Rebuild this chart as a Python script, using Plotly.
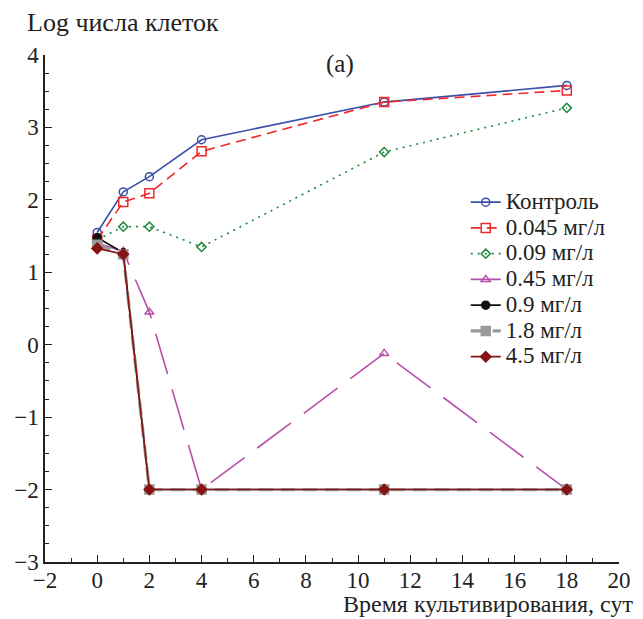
import plotly.graph_objects as go

days = [0, 1, 2, 4, 11, 18]
names = ["Контроль", "0.045 мг/л", "0.09 мг/л", "0.45 мг/л", "0.9 мг/л", "1.8 мг/л", "4.5 мг/л"]
control = [1.55, 2.11, 2.32, 2.83, 3.35, 3.58]
c0045 = [1.45, 1.97, 2.09, 2.67, 3.35, 3.51]
c009 = [1.45, 1.63, 1.63, 1.35, 2.66, 3.27]
c045 = [1.40, 1.29, 0.45, -2.0, -0.12, -2.0]
c09 = [1.48, 1.27, -2.0, -2.0, -2.0, -2.0]
c18 = [1.38, 1.25, -2.0, -2.0, -2.0, -2.0]
c45 = [1.33, 1.25, -2.0, -2.0, -2.0, -2.0]
series = [control, c0045, c009, c045, c09, c18, c45]

colors = ["#3A4FA8", "#F02828", "#1E8A3C", "#B64FAA", "#111111", "#9A9A9A", "#861414"]
dashes = ["solid", "10px,6px", "2px,5px", "42px,16px", "solid", "14px,8px", "solid"]
widths = [1.6, 1.6, 1.6, 1.6, 1.6, 3.2, 1.6]
symbols = ["circle-open", "square-open", "diamond-open", "triangle-up-open", "circle", "square", "diamond"]
sizes = [8, 9, 7, 8, 8, 9, 8]

font = "Liberation Serif, Times New Roman, serif"
LEG_SIZE = 23

fig = go.Figure()
for i in range(7):
    fig.add_trace(go.Scatter(
        x=days, y=series[i],
        name='<span style="font-size:%dpx">%s</span>' % (LEG_SIZE, names[i]),
        mode="lines+markers",
        line=dict(color=colors[i], width=widths[i], dash=dashes[i]),
        marker=dict(symbol=symbols[i], size=sizes[i], color=colors[i],
                    line=dict(color=colors[i], width=1.5)),
    ))

axis_common = dict(
    showline=True, linecolor="#222", linewidth=1.5, mirror=False,
    ticks="inside", ticklen=7, tickwidth=1.3, tickcolor="#222",
    showgrid=False, zeroline=False,
    tickfont=dict(family=font, size=23, color="#222"),
)
fig.update_xaxes(range=[-2, 20], dtick=2, tick0=0, ticklabelstandoff=-3,
                 minor=dict(dtick=1, ticks="inside", ticklen=4, tickcolor="#222", tickwidth=1.2),
                 **axis_common)
fig.update_yaxes(range=[-3, 4], dtick=1, tick0=0,
                 minor=dict(dtick=0.25, ticks="inside", ticklen=4, tickcolor="#222", tickwidth=1.2),
                 **axis_common)

fig.update_layout(
    width=643, height=619,
    margin=dict(l=45, r=16, t=55, b=57),
    paper_bgcolor="white", plot_bgcolor="white",
    font=dict(family=font, size=20, color="#222"),
    legend=dict(x=0.733, y=0.745, xanchor="left", yanchor="top",
                bgcolor="rgba(0,0,0,0)", font=dict(family=font, size=17.5, color="#222"),
                tracegroupgap=0, itemsizing="trace"),
    annotations=[
        dict(text="Log числа клеток", x=0.0, y=1.0, xref="paper", yref="paper",
             xanchor="left", yanchor="bottom", xshift=-20, yshift=16,
             showarrow=False, font=dict(family=font, size=26, color="#222")),
        dict(text="(a)", x=9.3, y=3.88, xref="x", yref="y", showarrow=False,
             font=dict(family=font, size=25, color="#222")),
        dict(text="Время культивирования, сут", x=1.0, y=0.0, xref="paper", yref="paper",
             xanchor="right", yanchor="bottom", xshift=16, yshift=-57,
             showarrow=False, font=dict(family=font, size=24, color="#222")),
    ],
)

fig.write_html("out.html")
